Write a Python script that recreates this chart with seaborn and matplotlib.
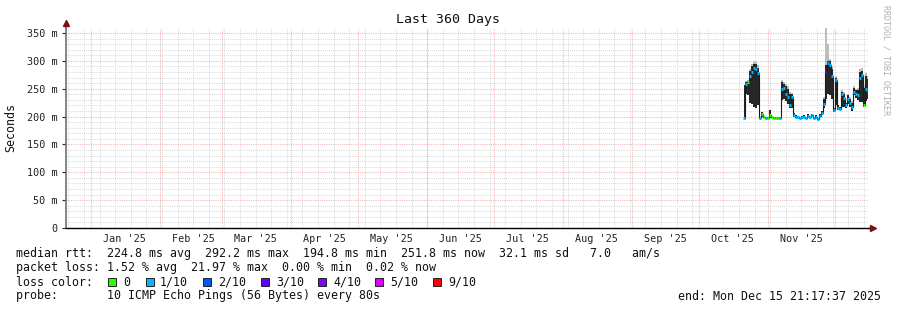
import numpy as np
import pandas as pd
import matplotlib
matplotlib.use("Agg")
import matplotlib.pyplot as plt
import matplotlib.dates as mdates
from matplotlib.patches import Rectangle
import seaborn as sns

sns.set_theme(style="white")
plt.rcParams['font.family'] = ['DejaVu Sans Mono', 'DejaVu Sans']

# ---------------- data ----------------
title = "Last 360 Days"
range_start = "2024-12-20 21:17:37"
range_end = "2025-12-15 21:17:37"
sample_start = "2025-10-21 02:00"
sample_step_hours = 21.6

median_ms = [198, 258, 262, 272, 280, 288, 285, 278, 198, 205, 199, 198, 198, 203, 199, 198,
             198, 197, 198, 250, 252, 240, 236, 220, 235, 203, 200, 199, 197, 199, 200, 197,
             201, 199, 202, 198, 200, 196, 201, 206, 222, 280, 296, 293, 272, 212, 266, 216,
             214, 240, 233, 220, 232, 224, 217, 244, 240, 238, 269, 275, 221, 250, 246]
smoke_lo_ms = [198, 240, 238, 225, 222, 218, 215, 220, 197, 199, 197, 197, 197, 198, 197, 197,
               197, 196, 197, 230, 232, 228, 222, 215, 215, 200, 198, 197, 195, 197, 198, 195,
               198, 197, 199, 196, 198, 194, 199, 203, 215, 232, 240, 238, 232, 208, 220, 212,
               211, 218, 218, 215, 222, 218, 210, 238, 234, 230, 226, 226, 218, 228, 232]
smoke_hi_ms = [257, 262, 263, 282, 290, 295, 294, 288, 200, 208, 201, 200, 200, 212, 201, 200,
               200, 199, 200, 262, 258, 255, 250, 240, 240, 206, 202, 201, 199, 201, 203, 199,
               204, 201, 205, 200, 202, 198, 204, 210, 232, 293, 300, 300, 285, 216, 270, 220,
               217, 244, 240, 224, 238, 232, 224, 251, 247, 248, 280, 282, 252, 272, 268]
smoke_top_ms = [257, 264, 266, 286, 294, 299, 298, 292, 200, 209, 201, 200, 200, 212, 201, 200,
                200, 199, 200, 266, 262, 258, 254, 244, 243, 206, 202, 201, 199, 201, 203, 199,
                204, 201, 205, 200, 202, 198, 204, 210, 236, 360, 330, 304, 290, 216, 273, 220,
                217, 247, 244, 224, 241, 236, 228, 254, 250, 252, 285, 287, 256, 278, 272]
loss_tenths = [1, 1, 0, 1, 1, 1, 1, 1, 1, 0, 0, 1, 0, 0, 0, 0,
               0, 0, 1, 1, 1, 1, 1, 1, 1, 1, 1, 1, 1, 1, 1, 1,
               1, 1, 1, 1, 1, 1, 1, 1, 1, 3, 1, 1, 1, 1, 1, 1,
               1, 1, 1, 1, 1, 1, 1, 1, 1, 1, 1, 1, 0, 1, 1]

loss_levels = [0, 1, 2, 3, 4, 5, 9]
loss_labels = ["0", "1/10", "2/10", "3/10", "4/10", "5/10", "9/10"]
loss_colors = ["#26ff00", "#00b8ff", "#0059ff", "#5e00ff", "#7e00ff", "#dd00ff", "#ff0000"]

month_labels = ["Jan '25", "Feb '25", "Mar '25", "Apr '25", "May '25", "Jun '25",
                "Jul '25", "Aug '25", "Sep '25", "Oct '25", "Nov '25"]

legend_lines = [
    "median rtt:  224.8 ms avg  292.2 ms max  194.8 ms min  251.8 ms now  32.1 ms sd   7.0   am/s",
    "packet loss: 1.52 % avg  21.97 % max  0.00 % min  0.02 % now",
    "loss color:",
    "probe:       10 ICMP Echo Pings (56 Bytes) every 80s",
]
end_text = "end: Mon Dec 15 21:17:37 2025"
watermark = "RRDTOOL / TOBI OETIKER"

# ---------------- figure ----------------
W, H = 897, 310
fig = plt.figure(figsize=(W / 100, H / 100), dpi=100)
fig.patch.set_facecolor("white")

def fx(px):
    return px / W

def fy(py):
    return 1 - py / H

ax = fig.add_axes([fx(66), fy(228), fx(868) - fx(66), fy(28) - fy(228)])
ax.set_facecolor("white")

t0 = pd.Timestamp(range_start)
t1 = pd.Timestamp(range_end)
times = pd.date_range(sample_start, periods=len(median_ms), freq=pd.Timedelta(hours=sample_step_hours))
df = pd.DataFrame({"time": times, "median": median_ms, "lo": smoke_lo_ms, "hi": smoke_hi_ms,
                   "top": smoke_top_ms, "loss": loss_tenths})

ax.set_xlim(t0, t1)
ax.set_ylim(0, 359)

# grid
minor_grid = "#dadada"
major_grid = (0.95, 0.55, 0.55, 0.6)
for y in range(10, 360, 10):
    if y % 50 == 0:
        ax.axhline(y, color=major_grid, lw=0.8, ls=(0, (1, 1)), zorder=1)
    else:
        ax.axhline(y, color=minor_grid, lw=0.7, ls=(0, (1, 1)), zorder=0.5)
weeks = pd.date_range(t0.normalize(), t1, freq="W-SUN")
for w in weeks:
    if w > t0:
        ax.axvline(w, color=minor_grid, lw=0.7, ls=(0, (1, 1)), zorder=0.5)
months = pd.date_range("2025-01-01", t1, freq="MS")
for m in months:
    ax.axvline(m, color=major_grid, lw=0.8, ls=(0, (1, 1)), zorder=1)

# smoke
ax.fill_between(df["time"], df["lo"], df["top"], step="mid", color="#bdbdbd", lw=0, zorder=2)
ax.fill_between(df["time"], df["lo"], df["hi"], step="mid", color="#262626", lw=0, zorder=3)

# median connecting line
sns.lineplot(data=df, x="time", y="median", ax=ax, color="#1a1a1a", lw=0.8,
             drawstyle="steps-mid", zorder=4, legend=False)
# median colored by loss
cmap = dict(zip(loss_levels, loss_colors))
half = pd.Timedelta(hours=sample_step_hours / 2)
ax.hlines(df["median"], df["time"] - half, df["time"] + half,
          colors=[cmap[l] for l in df["loss"]], lw=2.2, zorder=5)

# ticks
ax.set_yticks(range(0, 351, 50))
ax.set_yticklabels(["0"] + [f"{v} m" for v in range(50, 351, 50)])
mid_months = [m + pd.Timedelta(days=15) for m in months][:len(month_labels)]
ax.set_xticks(mid_months)
ax.set_xticklabels(month_labels)
ax.tick_params(axis="x", length=0, pad=4, labelsize=7.3, colors="#222222")
ax.tick_params(axis="y", length=3, width=0.8, pad=3, labelsize=7.3, colors="#222222",
               left=True, direction="out")
ax.set_xlabel("")
ax.set_ylabel("")

for s in ["top", "right"]:
    ax.spines[s].set_visible(False)
ax.spines["left"].set_color("#707070")
ax.spines["left"].set_linewidth(1.2)
ax.spines["bottom"].set_color("#000000")
ax.spines["bottom"].set_linewidth(1.0)

# axis arrows
ax.plot([1.0, 1.006], [0, 0], color="black", lw=1.0, transform=ax.transAxes, clip_on=False)
ax.plot([1.006], [0], marker=">", color="#7a1010", markersize=4, transform=ax.transAxes, clip_on=False)
ax.plot([0, 0], [1.0, 1.02], color="#707070", lw=1.2, transform=ax.transAxes, clip_on=False)
ax.plot([0], [1.027], marker="^", color="#7a1010", markersize=4, transform=ax.transAxes, clip_on=False)

# texts
fig.text(fx(448), fy(19), title, ha="center", va="center", fontsize=9.5, color="#111111")
fig.text(fx(11), fy(127), "Seconds", rotation=90, ha="center", va="center", fontsize=8.4, color="#111111")
fig.text(fx(886), fy(60), watermark, rotation=270, ha="center", va="center", fontsize=6, color="#b0b0b0")

ys = [254, 268, 282, 296]
for line, y in zip(legend_lines, ys):
    fig.text(fx(16), fy(y), line, ha="left", va="center", fontsize=8.4, color="#111111")
fig.text(fx(881), fy(296), end_text, ha="right", va="center", fontsize=8.4, color="#111111")

box_x = [108, 146, 203, 261, 318, 375, 433]
lab_x = [123, 160, 218, 276, 333, 390, 448]
for bx, lx, col, lab in zip(box_x, lab_x, loss_colors, loss_labels):
    fig.patches.append(Rectangle((fx(bx), fy(286)), 8 / W, 8 / H, transform=fig.transFigure,
                                 facecolor=col, edgecolor="#222222", lw=0.7))
    fig.text(fx(lx), fy(282), lab, ha="left", va="center", fontsize=8.4, color="#111111")

fig.savefig("out.png", dpi=100, facecolor="white")
